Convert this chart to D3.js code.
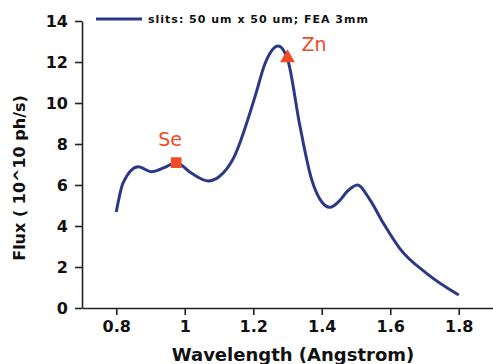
<!DOCTYPE html>
<html><head><meta charset="utf-8">
<script src="https://cdn.jsdelivr.net/npm/d3@7"></script>
<style>body{margin:0;background:#fff}svg{display:block}text{font-family:"DejaVu Sans",sans-serif}</style>
</head><body>
<svg id="c" width="493" height="364"></svg>
<script>
const wavelength = [0.80, 0.82, 0.864, 0.903, 0.94, 0.975, 1.02, 1.069, 1.10, 1.142, 1.205, 1.235, 1.273, 1.30, 1.336, 1.37, 1.395, 1.424, 1.45, 1.475, 1.504, 1.54, 1.58, 1.628, 1.706, 1.80];
const flux =       [4.68, 6.1, 6.89, 6.65, 6.85, 7.09, 6.57, 6.2, 6.4, 7.3, 10.3, 11.95, 12.78, 12.15, 8.9, 6.3, 5.3, 4.91, 5.2, 5.7, 6.0, 5.3, 4.13, 2.9, 1.69, 0.63];
const edges = [{name:"Se", x:0.975, y:7.09, shape:"square"}, {name:"Zn", x:1.30, y:12.2, shape:"triangle"}];
const xTicks = [0.8, 1.0, 1.2, 1.4, 1.6, 1.8];
const yTicks = [0, 2, 4, 6, 8, 10, 12, 14];
const legendLabel = "slits: 50 um x 50 um; FEA 3mm";

const svg = d3.select("#c");
const x = d3.scaleLinear().domain([0.7, 1.9]).range([82, 493]);
const y = d3.scaleLinear().domain([0, 14]).range([308, 21]);
const lineCol = "#2b3886", red = "#ef4b26";

const xa = svg.append("g").attr("transform","translate(0,308)")
  .call(d3.axisBottom(x).tickValues(xTicks).tickFormat(d=>d===1?"1":d3.format(".1f")(d)).tickSize(7).tickPadding(6).tickSizeOuter(0));
const ya = svg.append("g").attr("transform","translate(82,0)")
  .call(d3.axisLeft(y).tickValues(yTicks).tickSize(7).tickPadding(7).tickSizeOuter(0));
[xa, ya].forEach(a=>{
  a.selectAll("path,line").attr("stroke","#222").attr("stroke-width",1.6);
  a.selectAll("text").attr("font-size",16).attr("font-weight","bold").attr("fill","#111").style("font-family","DejaVu Sans");
});

const line = d3.line().x((d,i)=>x(wavelength[i])).y(d=>y(d)).curve(d3.curveMonotoneX);
svg.append("path").datum(flux).attr("d", line).attr("fill","none").attr("stroke",lineCol).attr("stroke-width",3);

edges.forEach(e=>{
  const sym = d3.symbol().type(e.shape==="square"?d3.symbolSquare:d3.symbolTriangle).size(e.shape==="square"?115:95);
  svg.append("path").attr("d", sym()).attr("transform",`translate(${x(e.x)},${y(e.y)})`).attr("fill",red);
});
svg.append("text").attr("x", x(edges[0].x)-6).attr("y", 146).attr("text-anchor","middle").attr("font-size",19).attr("fill",red).text(edges[0].name);
svg.append("text").attr("x", x(edges[1].x)+14).attr("y", 51).attr("text-anchor","start").attr("font-size",19).attr("fill",red).text(edges[1].name);

svg.append("line").attr("x1",96).attr("x2",142).attr("y1",19).attr("y2",19).attr("stroke",lineCol).attr("stroke-width",3);
svg.append("text").attr("x",148).attr("y",23).attr("font-size",11).attr("font-weight","bold").attr("letter-spacing",1.0).attr("fill","#111").text(legendLabel);

svg.append("text").attr("x",293).attr("y",361).attr("text-anchor","middle").attr("font-size",18).attr("font-weight","bold").attr("fill","#111").text("Wavelength (Angstrom)");
svg.append("text").attr("transform","translate(25,178) rotate(-90)").attr("text-anchor","middle").attr("font-size",16).attr("font-weight","bold").attr("fill","#111").text("Flux ( 10^10 ph/s)");
</script></body></html>
